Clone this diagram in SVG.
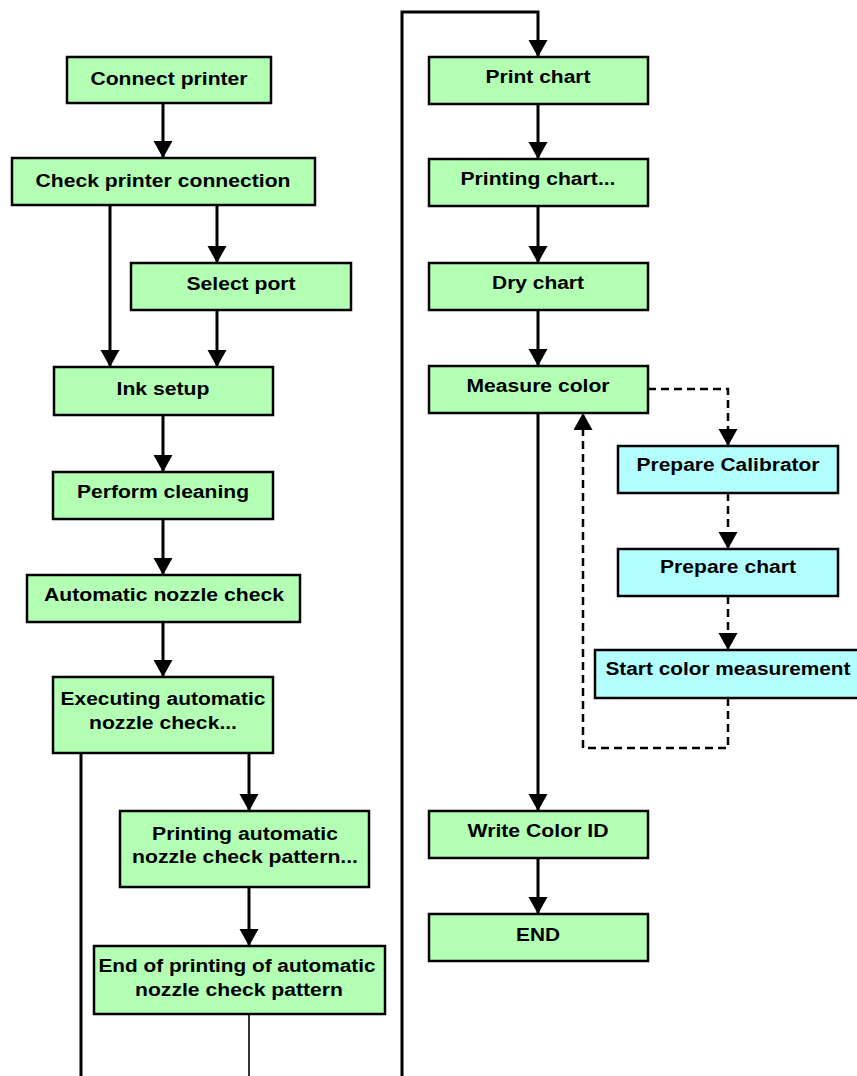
<svg xmlns="http://www.w3.org/2000/svg" width="857" height="1076" viewBox="0 0 857 1076">
<defs>
<style>
.g{fill:#b3ffb3;stroke:#000;stroke-width:2.5}
.c{fill:#b3ffff;stroke:#000;stroke-width:2.5}
.t{font-family:"Liberation Sans",Arial,sans-serif;font-size:18px;font-weight:bold;fill:#000;text-anchor:middle}
.l{fill:none;stroke:#000;stroke-width:3}
.d{fill:none;stroke:#000;stroke-width:2.5;stroke-dasharray:8,5}
</style>
<marker id="ah" markerUnits="userSpaceOnUse" markerWidth="18" markerHeight="20" refX="17" refY="9.5" orient="auto">
<path d="M0,0 L17,9.5 L0,19 z" fill="#000"/>
</marker>
</defs>
<rect width="857" height="1076" fill="#fff"/>
<g id="connectors">
<path class="l" d="M163,103 V158" marker-end="url(#ah)"/>
<path class="l" d="M110,205 V367" marker-end="url(#ah)"/>
<path class="l" d="M217,205 V263" marker-end="url(#ah)"/>
<path class="l" d="M217,310 V367" marker-end="url(#ah)"/>
<path class="l" d="M163,415 V472" marker-end="url(#ah)"/>
<path class="l" d="M163,519 V575" marker-end="url(#ah)"/>
<path class="l" d="M163,622 V677" marker-end="url(#ah)"/>
<path class="l" d="M81,753 V1076"/>
<path class="l" d="M249,753 V811" marker-end="url(#ah)"/>
<path class="l" d="M249,887 V946" marker-end="url(#ah)"/>
<path fill="none" stroke="#000" stroke-width="1.6" d="M249,1014 V1076"/>
<path class="l" d="M402,1076 V12 H538 V57" marker-end="url(#ah)"/>
<path class="l" d="M538,104 V159" marker-end="url(#ah)"/>
<path class="l" d="M538,206 V263" marker-end="url(#ah)"/>
<path class="l" d="M538,310 V366" marker-end="url(#ah)"/>
<path class="l" d="M538,413 V811" marker-end="url(#ah)"/>
<path class="l" d="M538,858 V914" marker-end="url(#ah)"/>
<path class="d" d="M648,389 H728 V446" marker-end="url(#ah)"/>
<path class="d" d="M728,493 V549" marker-end="url(#ah)"/>
<path class="d" d="M728,596 V650" marker-end="url(#ah)"/>
<path class="d" d="M728,698 V748 H583 V413" marker-end="url(#ah)"/>
</g>
<g id="n1"><rect class="g" x="67" y="57" width="204" height="46"/><text class="t" x="169" y="85" textLength="157" lengthAdjust="spacingAndGlyphs">Connect printer</text></g>
<g id="n2"><rect class="g" x="12" y="158" width="303" height="47"/><text class="t" x="163" y="187" textLength="255" lengthAdjust="spacingAndGlyphs">Check printer connection</text></g>
<g id="n3"><rect class="g" x="131" y="263" width="220" height="47"/><text class="t" x="241" y="290" textLength="109" lengthAdjust="spacingAndGlyphs">Select port</text></g>
<g id="n4"><rect class="g" x="54" y="367" width="219" height="48"/><text class="t" x="163" y="395" textLength="93" lengthAdjust="spacingAndGlyphs">Ink setup</text></g>
<g id="n5"><rect class="g" x="53" y="472" width="220" height="47"/><text class="t" x="163" y="498" textLength="172" lengthAdjust="spacingAndGlyphs">Perform cleaning</text></g>
<g id="n6"><rect class="g" x="27" y="575" width="273" height="47"/><text class="t" x="164" y="601" textLength="240" lengthAdjust="spacingAndGlyphs">Automatic nozzle check</text></g>
<g id="n7"><rect class="g" x="53" y="677" width="220" height="76"/><text class="t" x="163" y="705" textLength="205" lengthAdjust="spacingAndGlyphs">Executing automatic</text><text class="t" x="163" y="729" textLength="148" lengthAdjust="spacingAndGlyphs">nozzle check...</text></g>
<g id="n8"><rect class="g" x="120" y="811" width="249" height="76"/><text class="t" x="245" y="840" textLength="186" lengthAdjust="spacingAndGlyphs">Printing automatic</text><text class="t" x="245" y="863" textLength="226" lengthAdjust="spacingAndGlyphs">nozzle check pattern...</text></g>
<g id="n9"><rect class="g" x="94" y="946" width="291" height="68"/><text class="t" x="237" y="972" textLength="277" lengthAdjust="spacingAndGlyphs">End of printing of automatic</text><text class="t" x="239" y="996" textLength="208" lengthAdjust="spacingAndGlyphs">nozzle check pattern</text></g>
<g id="n10"><rect class="g" x="429" y="57" width="219" height="47"/><text class="t" x="538" y="83" textLength="105" lengthAdjust="spacingAndGlyphs">Print chart</text></g>
<g id="n11"><rect class="g" x="429" y="159" width="219" height="47"/><text class="t" x="538" y="185" textLength="155" lengthAdjust="spacingAndGlyphs">Printing chart...</text></g>
<g id="n12"><rect class="g" x="429" y="263" width="219" height="47"/><text class="t" x="538" y="289" textLength="92" lengthAdjust="spacingAndGlyphs">Dry chart</text></g>
<g id="n13"><rect class="g" x="429" y="366" width="219" height="47"/><text class="t" x="538" y="392" textLength="143" lengthAdjust="spacingAndGlyphs">Measure color</text></g>
<g id="n14"><rect class="c" x="618" y="446" width="220" height="47"/><text class="t" x="728" y="471" textLength="183" lengthAdjust="spacingAndGlyphs">Prepare Calibrator</text></g>
<g id="n15"><rect class="c" x="618" y="549" width="220" height="47"/><text class="t" x="728" y="573" textLength="136" lengthAdjust="spacingAndGlyphs">Prepare chart</text></g>
<g id="n16"><rect class="c" x="595" y="650" width="264" height="48"/><text class="t" x="728" y="675" textLength="245" lengthAdjust="spacingAndGlyphs">Start color measurement</text></g>
<g id="n17"><rect class="g" x="429" y="811" width="219" height="47"/><text class="t" x="538" y="837" textLength="141" lengthAdjust="spacingAndGlyphs">Write Color ID</text></g>
<g id="n18"><rect class="g" x="429" y="914" width="219" height="47"/><text class="t" x="538" y="941" textLength="44" lengthAdjust="spacingAndGlyphs">END</text></g>
</svg>
